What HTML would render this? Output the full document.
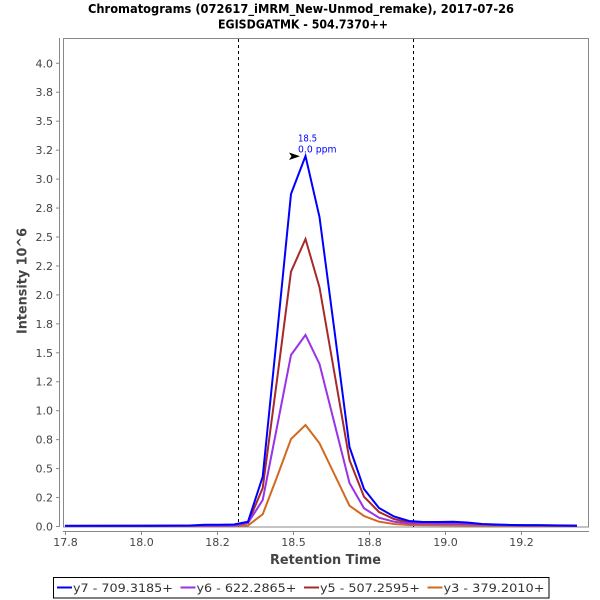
<!DOCTYPE html>
<html>
<head>
<meta charset="utf-8">
<style>
html,body{margin:0;padding:0;background:#fff;}
svg{display:block;}
text{font-family:"DejaVu Sans","Liberation Sans",sans-serif;}
</style>
</head>
<body>
<svg width="600" height="600" viewBox="0 0 600 600" xmlns="http://www.w3.org/2000/svg">
<rect x="0" y="0" width="600" height="600" fill="#fff"/>
<!-- Title -->
<text x="301" y="13" font-size="12" font-weight="bold" fill="#000" text-anchor="middle" textLength="426" lengthAdjust="spacingAndGlyphs">Chromatograms (072617_iMRM_New-Unmod_remake), 2017-07-26</text>
<text x="303" y="28.5" font-size="12" font-weight="bold" fill="#000" text-anchor="middle" textLength="170" lengthAdjust="spacingAndGlyphs">EGISDGATMK - 504.7370++</text>

<!-- Plot border -->
<rect x="63.5" y="38.5" width="525" height="488.5" fill="#fff" stroke="#888" stroke-width="1"/>
<!-- Y axis line -->
<line x1="59.5" y1="38" x2="59.5" y2="527" stroke="#888" stroke-width="1"/>
<!-- X axis line -->
<line x1="63" y1="531.5" x2="589" y2="531.5" stroke="#888" stroke-width="1"/>

<!-- Y ticks & labels -->
<g stroke="#888" stroke-width="1">
<line x1="56" y1="526.5" x2="59.5" y2="526.5"/>
<line x1="56" y1="497.55" x2="59.5" y2="497.55"/>
<line x1="56" y1="468.6" x2="59.5" y2="468.6"/>
<line x1="56" y1="439.65" x2="59.5" y2="439.65"/>
<line x1="56" y1="410.7" x2="59.5" y2="410.7"/>
<line x1="56" y1="381.75" x2="59.5" y2="381.75"/>
<line x1="56" y1="352.8" x2="59.5" y2="352.8"/>
<line x1="56" y1="323.85" x2="59.5" y2="323.85"/>
<line x1="56" y1="294.9" x2="59.5" y2="294.9"/>
<line x1="56" y1="265.95" x2="59.5" y2="265.95"/>
<line x1="56" y1="237" x2="59.5" y2="237"/>
<line x1="56" y1="208.05" x2="59.5" y2="208.05"/>
<line x1="56" y1="179.1" x2="59.5" y2="179.1"/>
<line x1="56" y1="150.15" x2="59.5" y2="150.15"/>
<line x1="56" y1="121.2" x2="59.5" y2="121.2"/>
<line x1="56" y1="92.25" x2="59.5" y2="92.25"/>
<line x1="56" y1="63.3" x2="59.5" y2="63.3"/>
</g>
<g font-size="11" fill="#444" text-anchor="end">
<text x="53" y="530.5">0.0</text>
<text x="53" y="501.5">0.2</text>
<text x="53" y="472.6">0.5</text>
<text x="53" y="443.6">0.8</text>
<text x="53" y="414.7">1.0</text>
<text x="53" y="385.7">1.2</text>
<text x="53" y="356.8">1.5</text>
<text x="53" y="327.8">1.8</text>
<text x="53" y="298.9">2.0</text>
<text x="53" y="269.9">2.2</text>
<text x="53" y="241">2.5</text>
<text x="53" y="212">2.8</text>
<text x="53" y="183.1">3.0</text>
<text x="53" y="154.1">3.2</text>
<text x="53" y="125.2">3.5</text>
<text x="53" y="96.2">3.8</text>
<text x="53" y="67.3">4.0</text>
</g>

<!-- X ticks & labels -->
<g stroke="#888" stroke-width="1">
<line x1="65.5" y1="531.5" x2="65.5" y2="535"/>
<line x1="141.5" y1="531.5" x2="141.5" y2="535"/>
<line x1="217.5" y1="531.5" x2="217.5" y2="535"/>
<line x1="293.5" y1="531.5" x2="293.5" y2="535"/>
<line x1="369.5" y1="531.5" x2="369.5" y2="535"/>
<line x1="445.5" y1="531.5" x2="445.5" y2="535"/>
<line x1="521.5" y1="531.5" x2="521.5" y2="535"/>
</g>
<g font-size="11" fill="#444" text-anchor="middle">
<text x="65.5" y="546">17.8</text>
<text x="141.5" y="546">18.0</text>
<text x="217.5" y="546">18.2</text>
<text x="293.5" y="546">18.5</text>
<text x="369.5" y="546">18.8</text>
<text x="445.5" y="546">19.0</text>
<text x="521.5" y="546">19.2</text>
</g>

<!-- Axis labels -->
<text x="325.5" y="564" font-size="13" font-weight="bold" fill="#444" text-anchor="middle" textLength="111" lengthAdjust="spacingAndGlyphs">Retention Time</text>
<text transform="translate(26.5,281) rotate(-90)" x="0" y="0" font-size="13" font-weight="bold" fill="#444" text-anchor="middle" textLength="106" lengthAdjust="spacingAndGlyphs">Intensity 10^6</text>

<!-- Dashed boundary lines -->
<line x1="238.5" y1="39" x2="238.5" y2="527" stroke="#000" stroke-width="1" stroke-dasharray="3,3"/>
<line x1="413.5" y1="39" x2="413.5" y2="527" stroke="#000" stroke-width="1" stroke-dasharray="3,3"/>

<!-- Series -->
<g fill="none" stroke-width="2" stroke-linejoin="miter">
<polyline stroke="#D2691E" points="65,526 234,525.8 248,525.5 262.7,514.3 277,477 291,439 305.5,425 319.5,443.3 334.5,474.5 349.5,505.7 364,516 379,521.7 394,524 409,525 470,525.5 577,526"/>
<polyline stroke="#A52A2A" points="65,526 234,525.5 248,523 262.7,488 277,380 291,271.7 305.5,239 319.5,287.3 334.5,373.5 349.5,460 364,496.7 379,512 394,519 409,522.5 423,523.5 460,523.5 500,525 577,525.5"/>
<polyline stroke="#9A32E6" points="65,526 234,525.5 248,523 262.7,500 277,427 291,355 305.5,335 319.5,364 334.5,423.5 349.5,483 364,508.3 379,517.7 394,521.7 409,523.5 460,524 500,525 577,525.8"/>
<polyline stroke="#0000FF" points="65,525.8 150,525.8 190,525.5 205,524.8 220,524.8 234,524.5 248,521.7 262.7,476.7 277,335 291,194 305.5,156 319.5,217 334.5,331 349.5,447 364,489 379,508 394,516.5 409,521 423,522 438,522 453,521.8 467,522.5 482,524 496,524.5 511,525 525,525.2 540,525.2 555,525.5 577,525.8"/>
</g>

<!-- Peak annotation -->
<polygon points="289,152.5 300,156.3 289,160 291.5,156.3" fill="#000"/>
<text x="298" y="141.5" font-size="10" fill="#0000FF" textLength="19" lengthAdjust="spacingAndGlyphs">18.5</text>
<text x="298" y="152.5" font-size="10" fill="#0000FF" textLength="38.5" lengthAdjust="spacingAndGlyphs">0.0 ppm</text>

<!-- Legend -->
<rect x="53.5" y="577.5" width="495.5" height="20.5" fill="#fff" stroke="#000" stroke-width="1"/>
<g stroke-width="2">
<line x1="57" y1="587.5" x2="72" y2="587.5" stroke="#0000FF"/>
<line x1="180.5" y1="587.5" x2="195.5" y2="587.5" stroke="#9A32E6"/>
<line x1="304" y1="587.5" x2="319" y2="587.5" stroke="#A52A2A"/>
<line x1="427.5" y1="587.5" x2="442.5" y2="587.5" stroke="#D2691E"/>
</g>
<g font-size="11.5" fill="#333">
<text x="73" y="592" textLength="100" lengthAdjust="spacingAndGlyphs">y7 - 709.3185+</text>
<text x="196.5" y="592" textLength="100" lengthAdjust="spacingAndGlyphs">y6 - 622.2865+</text>
<text x="320" y="592" textLength="100" lengthAdjust="spacingAndGlyphs">y5 - 507.2595+</text>
<text x="443.5" y="592" textLength="101" lengthAdjust="spacingAndGlyphs">y3 - 379.2010+</text>
</g>
</svg>
</body>
</html>
